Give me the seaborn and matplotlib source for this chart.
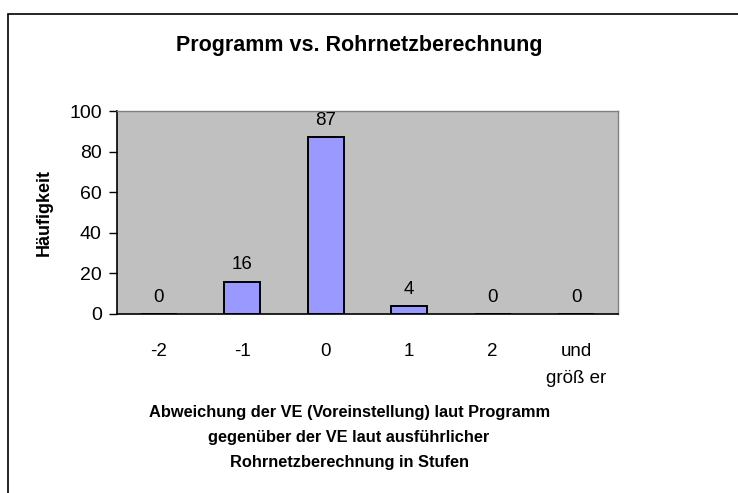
import matplotlib
matplotlib.use("Agg")
import matplotlib.pyplot as plt
import seaborn as sns
import pandas as pd
from matplotlib.patches import Rectangle

# ====== Data ======
categories = ["-2", "-1", "0", "1", "2", "und\ngröß er"]
counts = [0, 16, 87, 4, 0, 0]

title = "Programm vs. Rohrnetzberechnung"
y_label = "Häufigkeit"
x_label = ("Abweichung der VE (Voreinstellung) laut Programm\n"
           "gegenüber der VE laut ausführlicher\n"
           "Rohrnetzberechnung in Stufen")

df = pd.DataFrame({"Stufe": categories, "Anzahl": counts})

sns.set_theme(style="white")
plt.rcParams["font.family"] = ["Liberation Sans", "DejaVu Sans"]
plt.rcParams["text.color"] = "black"
plt.rcParams["xtick.color"] = "black"
plt.rcParams["ytick.color"] = "black"
plt.rcParams["axes.labelcolor"] = "black"

fig = plt.figure(figsize=(7.38, 4.93), dpi=100)
ax = fig.add_axes([0.1585, 0.3631, 0.6789, 0.4117])

sns.barplot(data=df, x="Stufe", y="Anzahl", color="#9999FF", saturation=1,
            width=0.43, edgecolor="black", linewidth=1.4, ax=ax)

ax.set_facecolor("#C0C0C0")
ax.set_xlim(-0.5, len(categories) - 0.5)
ax.set_ylim(0, 100)
ax.set_yticks(range(0, 101, 20))

# bar value labels
for i, v in enumerate(counts):
    ax.annotate(str(v), (i, v), xytext=(0, 6), textcoords="offset points",
                ha="center", va="bottom", fontsize=13.5, color="black",
                annotation_clip=False)

# spines
for side in ["top", "right"]:
    ax.spines[side].set_color("#808080")
    ax.spines[side].set_linewidth(1.0)
for side in ["left", "bottom"]:
    ax.spines[side].set_color("black")
    ax.spines[side].set_linewidth(1.2)

# x ticks at category boundaries, labels at centres
ax.set_xticks([i - 0.5 for i in range(len(categories) + 1)])
ax.set_xticklabels([])
ax.set_xticks(range(len(categories)), minor=True)
ax.set_xticklabels(categories, minor=True, fontsize=13.5, linespacing=1.75, va="top")
ax.tick_params(axis="x", which="major", direction="inout", length=10, width=1, color="black")
ax.tick_params(axis="x", which="minor", length=0, pad=21)
ax.tick_params(axis="y", direction="out", length=6, width=1, color="black", labelsize=14, pad=5, left=True)

ax.set_xlabel("")
ax.set_ylabel(y_label, fontsize=13, fontweight="bold", labelpad=12)

fig.text(0.487, 0.908, title, ha="center", va="center", fontsize=15.5, fontweight="bold")
fig.text(0.473, 0.113, x_label, ha="center", va="center", fontsize=11.8, fontweight="bold",
         linespacing=1.85)

# chart frame (left and top edges visible)
fig.patches.append(Rectangle((8 / 738, -0.1), 1.2, (493 - 14) / 493 + 0.1,
                             transform=fig.transFigure, fill=False,
                             edgecolor="black", linewidth=1.2))

fig.savefig("out.png", dpi=100)
